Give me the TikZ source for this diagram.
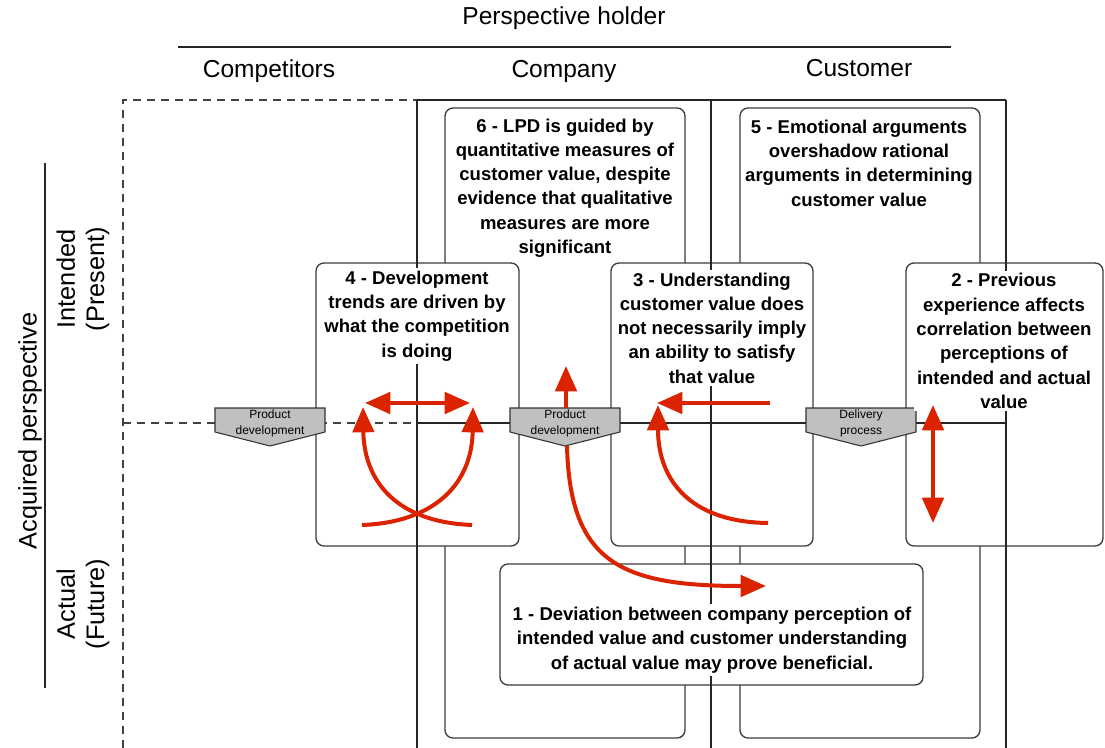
\documentclass[tikz,border=0pt]{standalone}
\usepackage{fontspec}
\setmainfont{Liberation Sans}
\usetikzlibrary{arrows.meta}
\definecolor{arrred}{RGB}{220,35,0}
\definecolor{boxline}{RGB}{60,60,60}
\definecolor{pentfill}{RGB}{192,192,192}
\tikzset{
  box/.style={draw=boxline, line width=1pt, rounded corners=6pt, fill=white},
  gridline/.style={draw=black!85, line width=0.8pt},
  dashline/.style={draw=black!75, line width=0.8pt, dash pattern=on 6pt off 4.5pt},
  pentshape/.style={draw=black!80, line width=0.8pt, fill=pentfill},
  penttext/.style={font=\fontsize{9pt}{12pt}\selectfont, align=center, inner sep=0pt},
  boxtext/.style={font=\fontsize{13.9pt}{18.2pt}\selectfont\bfseries, align=center, fill=white, inner sep=2pt},
  headtext/.style={font=\fontsize{18.4pt}{22pt}\selectfont, inner sep=0pt},
  sidetext/.style={font=\fontsize{19pt}{22pt}\selectfont, align=center, rotate=90, inner sep=0pt},
  redarrow/.style={draw=arrred, line width=3pt, -{Triangle[length=19pt,width=16pt]}},
  redboth/.style={draw=arrred, line width=3pt, {Triangle[length=19pt,width=16pt]}-{Triangle[length=19pt,width=16pt]}},
}
\newcommand{\mypent}[3]{%
  \draw[pentshape] ({#1-55},408) -- ({#1+55},408) -- ({#1+55},432) -- (#1,446) -- ({#1-55},432) -- cycle;
  \node[penttext] (#2) at (#1,423) {#3};
}
\begin{document}
\begin{tikzpicture}[x=0.75pt,y=-0.75pt]
\useasboundingbox (0,0) rectangle (1105,748);

% headers
\node[headtext] (ph) at (564,18) {Perspective holder};
\draw[gridline] (178,47) -- (951,47);
\node[headtext] (comp) at (269,71) {Competitors};
\node[headtext] (cmpy) at (564,71) {Company};
\node[headtext] (cust) at (859,68) {Customer};

% side labels
\draw[gridline] (45,163) -- (45,688);
\node[sidetext] (acq) at (30,431) {Acquired perspective};
\node[sidetext] (int) at (83,279) {Intended\\(Present)};
\node[sidetext] (act) at (83,604) {Actual\\(Future)};

% tall boxes
\draw[box] (445,108) rectangle (685,738);
\draw[box] (740,108) rectangle (980,738);
% medium boxes
\draw[box] (316,263) rectangle (519,546);
\draw[box] (611,263) rectangle (813,546);
\draw[box] (906,263) rectangle (1103,546);
\draw[box] (500,564) rectangle (923,685);

% grid
\draw[dashline] (123,748) -- (123,100) -- (417,100);
\draw[dashline] (123,423) -- (417,423);
\draw[gridline] (417,100) -- (1006,100);
\draw[gridline] (417,100) -- (417,748);
\draw[gridline] (711,100) -- (711,748);
\draw[gridline] (1006,100) -- (1006,748);
\draw[gridline] (417,423) -- (1006,423);

% pentagons
\mypent{270}{pd1}{Product\\development}
\mypent{565}{pd2}{Product\\development}
\mypent{861}{dp}{Delivery\\process}

% box texts
\node[boxtext] (t6) at (565,188) {6 - LPD is guided by\\quantitative measures of\\customer value, despite\\evidence that qualitative\\measures are more\\significant};
\node[boxtext] (t5) at (859,163) {5 - Emotional arguments\\overshadow rational\\arguments in determining\\customer value};
\node[boxtext] (t4) at (417,316) {4 - Development\\trends are driven by\\what the competition\\is doing};
\node[boxtext] (t3) at (712,328) {3 - Understanding\\customer value does\\not necessarily imply\\an ability to satisfy\\that value};
\node[boxtext] (t2) at (1004,341) {2 - Previous\\experience affects\\correlation between\\perceptions of\\intended and actual\\value};
\node[boxtext] (t1) at (712,640) {1 - Deviation between company perception of\\intended value and customer understanding\\of actual value may prove beneficial.};

% arrow coordinates
\coordinate (a4l) at (365,403);
\coordinate (a4r) at (470,403);
\coordinate (c4a) at (472,525);
\coordinate (c4ae) at (363,407);
\coordinate (c4b) at (362,525);
\coordinate (c4be) at (473,407);
\coordinate (a3s) at (770,403);
\coordinate (a3e) at (657,403);
\coordinate (c3s) at (768,523);
\coordinate (c3e) at (658,405);
\coordinate (a2t) at (933,405);
\coordinate (a2b) at (933,523);
\coordinate (pdtop) at (566,408);
\coordinate (pdup) at (566,366);
\coordinate (pdbot) at (567,446);
\coordinate (pdend) at (766,586);

% red arrows
\draw[redboth] (a4l) -- (a4r);
\draw[redarrow] (c4a) .. controls (395,522) and (364,480) .. (c4ae);
\draw[redarrow] (c4b) .. controls (439,522) and (472,480) .. (c4be);
\draw[redarrow] (a3s) -- (a3e);
\draw[redarrow] (c3s) .. controls (690,522) and (658,480) .. (c3e);
\draw[redboth] (a2t) -- (a2b);
\draw[redarrow] (pdtop) -- (pdup);
\draw[redarrow] (pdbot) .. controls (570,562) and (620,586) .. (pdend);
\end{tikzpicture}
\end{document}
